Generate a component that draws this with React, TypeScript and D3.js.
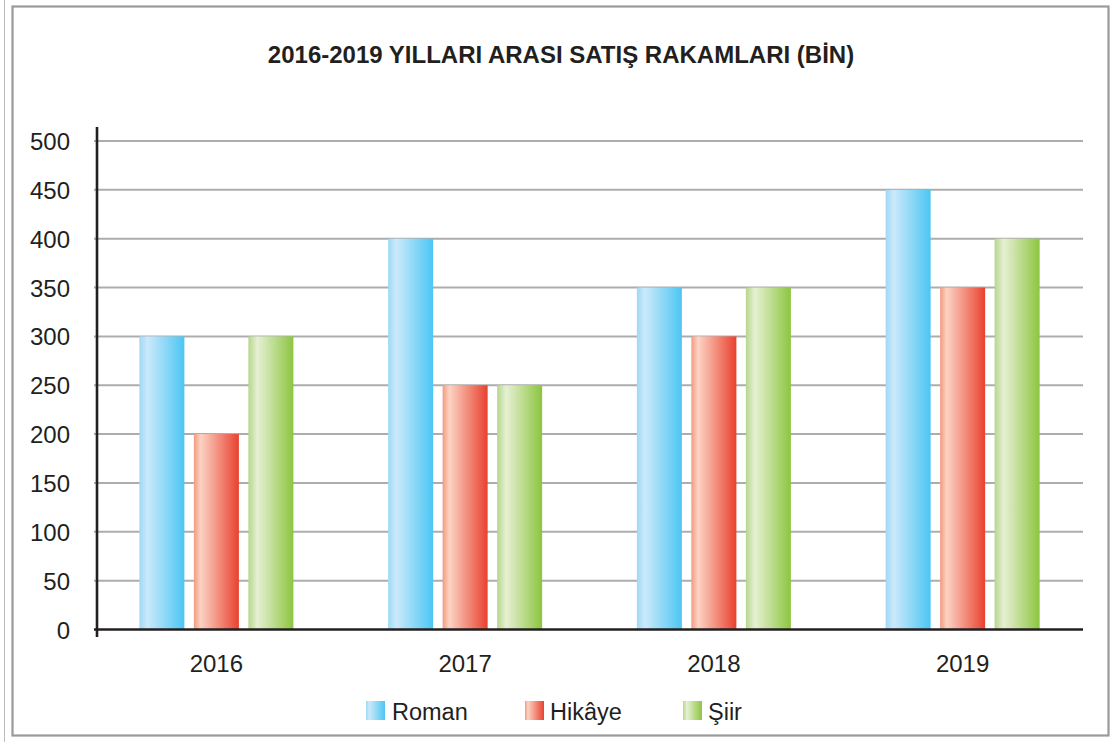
import React from "react";
import * as d3 from "d3";

const years = ["2016", "2017", "2018", "2019"];
const seriesNames = ["Roman", "Hikâye", "Şiir"];
const romanValues = [300, 400, 350, 450];
const hikayeValues = [200, 250, 300, 350];
const siirValues = [300, 250, 350, 400];
const yTicks = [0, 50, 100, 150, 200, 250, 300, 350, 400, 450, 500];
const title = "2016-2019 YILLARI ARASI SATIŞ RAKAMLARI (BİN)";

const seriesValues = [romanValues, hikayeValues, siirValues];
const gradients = [
  { id: "gRoman", stops: [["0%", "#9fd8f5"], ["18%", "#cbe9fa"], ["100%", "#4cc6f3"]] },
  { id: "gHikaye", stops: [["0%", "#f29a80"], ["15%", "#fcd3c3"], ["100%", "#e9412f"]] },
  { id: "gSiir", stops: [["0%", "#b6d68c"], ["20%", "#e6f0d3"], ["100%", "#8dc540"]] },
];

const W = 1115;
const H = 742;
const FONT = "'Liberation Sans', Arial, Helvetica, sans-serif";
const TEXT = "#231f20";

export default function App() {
  const x0 = d3.scaleBand().domain(years).range([92, 1087]).paddingInner(0).paddingOuter(0);
  const x1 = d3
    .scaleBand()
    .domain(seriesNames)
    .range([0, x0.bandwidth()])
    .paddingInner(0.174)
    .paddingOuter(0.869);
  const y = d3.scaleLinear().domain([0, 500]).range([629.5, 141]);

  const plotLeft = 97;
  const plotRight = 1083;

  const legendItems = [
    { swatch: 366, text: 392 },
    { swatch: 525, text: 550 },
    { swatch: 683, text: 708 },
  ];

  return (
    <svg
      width={W}
      height={H}
      style={{ position: "absolute", left: 0, top: 0, display: "block", background: "#fff" }}
      fontFamily={FONT}
    >
      <defs>
        {gradients.map((g) => (
          <linearGradient key={g.id} id={g.id} x1="0" y1="0" x2="1" y2="0">
            {g.stops.map(([o, c]) => (
              <stop key={o} offset={o} stopColor={c} />
            ))}
          </linearGradient>
        ))}
      </defs>
      <rect x={0} y={0} width={W} height={H} fill="#fff" />
      <line x1={4.5} y1={0} x2={4.5} y2={H} stroke="#bdbdbd" strokeWidth={1} />
      <rect x={12.5} y={6.5} width={1096} height={729} fill="#fff" stroke="#9a9a9a" strokeWidth={2.2} />

      <text x={561} y={63} textAnchor="middle" fontSize={24} fontWeight="bold" fill={TEXT}>
        {title}
      </text>

      {/* gridlines */}
      {yTicks.filter((t) => t > 0).map((t) => (
        <line key={t} x1={94} x2={plotRight} y1={y(t)} y2={y(t)} stroke="#adadad" strokeWidth={2} />
      ))}

      {/* y labels */}
      {yTicks.map((t) => (
        <text key={t} x={70} y={y(t) + 9} textAnchor="end" fontSize={24} fill={TEXT}>
          {t}
        </text>
      ))}

      {/* bars */}
      {years.map((yr, i) => (
        <g key={yr} transform={`translate(${x0(yr)},0)`}>
          {seriesNames.map((s, j) => {
            const v = seriesValues[j][i];
            return (
              <rect
                key={s}
                x={x1(s)}
                y={y(v)}
                width={x1.bandwidth()}
                height={y(0) - y(v)}
                fill={`url(#${gradients[j].id})`}
              />
            );
          })}
        </g>
      ))}

      {/* axes */}
      <line x1={plotLeft} x2={plotLeft} y1={127} y2={637} stroke="#231f20" strokeWidth={2.6} />
      <line x1={94} x2={plotRight} y1={y(0)} y2={y(0)} stroke="#231f20" strokeWidth={2.6} />

      {/* year labels */}
      {years.map((yr) => (
        <text
          key={yr}
          x={(x0(yr) as number) + x0.bandwidth() / 2}
          y={672}
          textAnchor="middle"
          fontSize={24}
          fill={TEXT}
        >
          {yr}
        </text>
      ))}

      {/* legend */}
      {seriesNames.map((s, j) => (
        <g key={s}>
          <rect x={legendItems[j].swatch} y={701} width={19} height={19} fill={`url(#${gradients[j].id})`} />
          <text x={legendItems[j].text} y={720} fontSize={23.5} fill={TEXT}>
            {s}
          </text>
        </g>
      ))}
    </svg>
  );
}
